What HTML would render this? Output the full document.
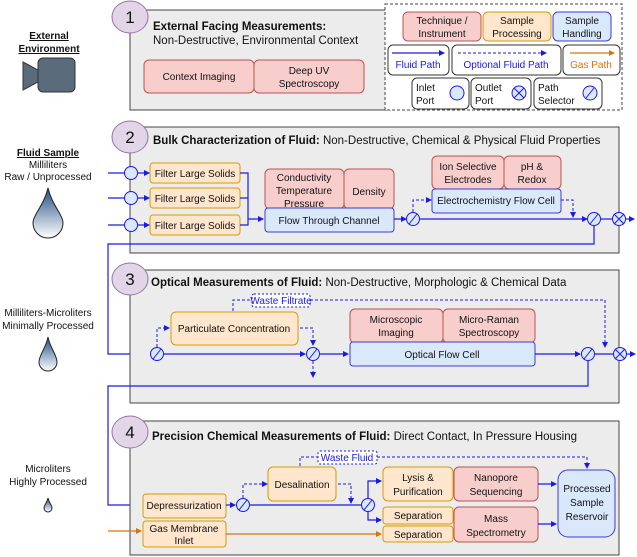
<!DOCTYPE html>
<html><head><meta charset="utf-8"><style>
html,body{margin:0;padding:0;background:#fff;}
svg{display:block;font-family:"Liberation Sans",Arial,sans-serif;}
.r{fill:#f8cecc;stroke:#b85450;stroke-width:1;}
.o{fill:#ffe6cc;stroke:#d79b00;stroke-width:1;}
.b{fill:#dae8fc;stroke:#3b3bd6;stroke-width:1;}
.p{fill:#ececec;stroke:#444;stroke-width:1;}
.c{fill:#e1d5e7;stroke:#9673a6;stroke-width:1;}
.w{fill:#fff;stroke:#333;stroke-width:1;}
.f{stroke:#1a1ae6;stroke-width:1.2;fill:none;}
.d{stroke:#1a1ae6;stroke-width:1;fill:none;stroke-dasharray:3,2;}
.g{stroke:#d9730d;stroke-width:1.2;fill:none;}
.port{fill:#dae8fc;stroke:#1a1ae6;stroke-width:1;}
text{font-size:10px;fill:#111;}
.t{font-size:11.5px;}
.n{font-size:17px;}
</style></head><body>
<svg width="637" height="557" viewBox="0 0 637 557" xmlns="http://www.w3.org/2000/svg">
<defs>
<marker id="a" markerWidth="6" markerHeight="6" refX="5" refY="3" orient="auto" markerUnits="userSpaceOnUse"><path d="M0,0 L6,3 L0,6 z" fill="#1a1ae6"/></marker>
<marker id="ag" markerWidth="6" markerHeight="6" refX="5" refY="3" orient="auto" markerUnits="userSpaceOnUse"><path d="M0,0 L6,3 L0,6 z" fill="#d9730d"/></marker>
<linearGradient id="drop" x1="0" y1="0" x2="0" y2="1"><stop offset="0" stop-color="#1f4f86"/><stop offset="1" stop-color="#fff"/></linearGradient>
</defs>

<!-- Left labels -->
<text x="49" y="39" text-anchor="middle" font-weight="bold" text-decoration="underline">External</text>
<text x="49" y="52" text-anchor="middle" font-weight="bold" text-decoration="underline">Environment</text>
<path d="M23,62 L38,70 L38,82 L23,90 Z" fill="#5a6b7b" stroke="#333"/>
<rect x="38" y="58" width="37" height="34" rx="5" fill="#5a6b7b" stroke="#333"/>

<text x="48" y="156" text-anchor="middle" font-weight="bold" text-decoration="underline">Fluid Sample</text>
<text x="48" y="168" text-anchor="middle">Milliliters</text>
<text x="48" y="180" text-anchor="middle">Raw / Unprocessed</text>
<path d="M48,188 C52,205 63,215 63,223 A15,15 0 0 1 33,223 C33,215 44,205 48,188 Z" fill="url(#drop)" stroke="#222"/>

<text x="48" y="316" text-anchor="middle">Milliliters-Microliters</text>
<text x="48" y="329" text-anchor="middle">Minimally Processed</text>
<path d="M48,337 C50,348 57,355 57,362 A9,9 0 0 1 39,362 C39,355 46,348 48,337 Z" fill="url(#drop)" stroke="#222"/>

<text x="48" y="472" text-anchor="middle">Microliters</text>
<text x="48" y="485" text-anchor="middle">Highly Processed</text>
<path d="M48,498 C49,503 52,505 52,508 A4,4 0 0 1 44,508 C44,505 47,503 48,498 Z" fill="url(#drop)" stroke="#222"/>

<!-- Panel 1 -->
<rect class="p" x="130" y="10" width="260" height="100"/>
<ellipse class="c" cx="130" cy="17" rx="18" ry="16"/>
<text class="n" x="130" y="23" text-anchor="middle">1</text>
<text class="t" x="153" y="30" font-weight="bold">External Facing Measurements:</text>
<text class="t" x="153" y="44">Non-Destructive, Environmental Context</text>
<rect class="r" x="144" y="60" width="110" height="33" rx="5"/>
<rect class="r" x="254" y="60" width="110" height="33" rx="5"/>
<text x="199" y="80" text-anchor="middle">Context Imaging</text>
<text x="309" y="74" text-anchor="middle">Deep UV</text>
<text x="309" y="87" text-anchor="middle">Spectroscopy</text>

<!-- Legend -->
<rect x="385" y="4" width="237" height="106" fill="#fff" stroke="#444" stroke-dasharray="3,2"/>
<rect class="r" x="403" y="12" width="78" height="29" rx="5"/>
<text x="442" y="24" text-anchor="middle" font-size="10.5">Technique /</text>
<text x="442" y="37" text-anchor="middle" font-size="10.5">Instrument</text>
<rect class="o" x="483" y="12" width="68" height="29" rx="5"/>
<text x="517" y="24" text-anchor="middle" font-size="10.5">Sample</text>
<text x="517" y="37" text-anchor="middle" font-size="10.5">Processing</text>
<rect class="b" x="553" y="12" width="58" height="29" rx="5"/>
<text x="582" y="24" text-anchor="middle" font-size="10.5">Sample</text>
<text x="582" y="37" text-anchor="middle" font-size="10.5">Handling</text>
<rect class="w" x="388" y="45" width="61" height="30" rx="5"/>
<line class="f" x1="392" y1="53" x2="444" y2="53" marker-end="url(#a)"/>
<text x="418" y="68" text-anchor="middle" font-size="10.5" style="fill:#1a1ae6">Fluid Path</text>
<rect class="w" x="452" y="45" width="109" height="30" rx="5"/>
<line class="d" x1="458" y1="53" x2="546" y2="53" marker-end="url(#a)"/>
<text x="506" y="68" text-anchor="middle" font-size="10.5" style="fill:#1a1ae6">Optional Fluid Path</text>
<rect class="w" x="563" y="45" width="57" height="30" rx="5"/>
<line class="g" x1="570" y1="53" x2="614" y2="53" marker-end="url(#ag)"/>
<text x="591" y="68" text-anchor="middle" font-size="10.5" style="fill:#d9730d">Gas Path</text>
<rect class="w" x="412" y="78" width="57" height="31" rx="5"/>
<text x="416" y="91" font-size="10.5">Inlet</text><text x="416" y="104" font-size="10.5">Port</text>
<circle class="port" cx="457" cy="93" r="7"/>
<rect class="w" x="471" y="78" width="60" height="31" rx="5"/>
<text x="475" y="91" font-size="10.5">Outlet</text><text x="475" y="104" font-size="10.5">Port</text>
<circle class="port" cx="519" cy="93" r="7"/><path d="M514,88 L524,98 M524,88 L514,98" stroke="#1a1ae6"/>
<rect class="w" x="534" y="78" width="68" height="31" rx="5"/>
<text x="538" y="91" font-size="10.5">Path</text><text x="538" y="104" font-size="10.5">Selector</text>
<circle class="port" cx="590" cy="93" r="7"/><path d="M586,98 L594,88" stroke="#1a1ae6"/>

<!-- Panel 2 -->
<rect class="p" x="130" y="127" width="489" height="126"/>
<ellipse class="c" cx="130" cy="137" rx="18" ry="16"/>
<text class="n" x="130" y="143" text-anchor="middle">2</text>
<text class="t" x="153" y="144"><tspan font-weight="bold">Bulk Characterization of Fluid:</tspan> Non-Destructive, Chemical &amp; Physical Fluid Properties</text>
<g>
<line class="f" x1="108" y1="173" x2="125" y2="173"/><line class="f" x1="108" y1="198" x2="125" y2="198"/><line class="f" x1="108" y1="225" x2="125" y2="225"/>
<line class="f" x1="137" y1="173" x2="149" y2="173" marker-end="url(#a)"/>
<line class="f" x1="137" y1="198" x2="149" y2="198" marker-end="url(#a)"/>
<line class="f" x1="137" y1="225" x2="149" y2="225" marker-end="url(#a)"/>
<circle class="port" cx="131" cy="173" r="6.5"/><circle class="port" cx="131" cy="198" r="6.5"/><circle class="port" cx="131" cy="225" r="6.5"/>
<rect class="o" x="150" y="163" width="90" height="20" rx="3"/><text x="195" y="177" text-anchor="middle">Filter Large Solids</text>
<rect class="o" x="150" y="188" width="90" height="20" rx="3"/><text x="195" y="202" text-anchor="middle">Filter Large Solids</text>
<rect class="o" x="150" y="215" width="90" height="20" rx="3"/><text x="195" y="229" text-anchor="middle">Filter Large Solids</text>
<path class="f" d="M240,173 H248 V225 M240,198 H248 M240,225 H248 V219 H263" marker-end="url(#a)"/>
</g>
<rect class="r" x="265" y="169" width="79" height="40" rx="5"/>
<rect class="r" x="344" y="169" width="50" height="40" rx="5"/>
<text x="304" y="181" text-anchor="middle">Conductivity</text><text x="304" y="194" text-anchor="middle">Temperature</text><text x="304" y="207" text-anchor="middle">Pressure</text>
<text x="369" y="195" text-anchor="middle">Density</text>
<rect class="b" x="265" y="208" width="129" height="24" rx="3"/>
<text x="329" y="224" text-anchor="middle">Flow Through Channel</text>
<line class="f" x1="394" y1="219" x2="406" y2="219" marker-end="url(#a)"/>
<circle class="port" cx="413" cy="219" r="6.5"/><path d="M409,224 L417,214" stroke="#1a1ae6"/>
<path class="d" d="M413,212 V200 H431" marker-end="url(#a)"/>
<rect class="r" x="432" y="156" width="72" height="33" rx="5"/>
<rect class="r" x="504" y="156" width="57" height="33" rx="5"/>
<text x="468" y="170" text-anchor="middle">Ion Selective</text><text x="468" y="183" text-anchor="middle">Electrodes</text>
<text x="532" y="170" text-anchor="middle">pH &amp;</text><text x="532" y="183" text-anchor="middle">Redox</text>
<rect class="b" x="432" y="189" width="129" height="24" rx="3"/>
<text x="496" y="204" text-anchor="middle">Electrochemistry Flow Cell</text>
<path class="d" d="M561,200 H573 V217" marker-end="url(#a)"/>
<line class="f" x1="420" y1="219" x2="587" y2="219" marker-end="url(#a)"/>
<circle class="port" cx="594" cy="219" r="6.5"/><path d="M590,224 L598,214" stroke="#1a1ae6"/>
<line class="f" x1="601" y1="219" x2="612" y2="219"/>
<circle class="port" cx="619" cy="219" r="6.5"/><path d="M614,214 L624,224 M624,214 L614,224" stroke="#1a1ae6"/>
<line class="f" x1="626" y1="219" x2="634" y2="219" marker-end="url(#a)"/>
<path class="f" d="M594,226 V244 H108 V354 H150" marker-end="url(#a)"/>

<!-- Panel 3 -->
<rect class="p" x="130" y="270" width="489" height="133"/>
<ellipse class="c" cx="130" cy="279" rx="18" ry="16"/>
<text class="n" x="130" y="285" text-anchor="middle">3</text>
<text class="t" x="151" y="286"><tspan font-weight="bold">Optical Measurements of Fluid:</tspan> Non-Destructive, Morphologic &amp; Chemical Data</text>
<path class="d" d="M233,311 V300 H252 M310,300 H605 V347" marker-end="url(#a)"/>
<rect x="252" y="294" width="58" height="13" rx="2" fill="#fff" stroke="#1a1ae6" stroke-dasharray="2,2"/>
<text x="281" y="304" text-anchor="middle" font-size="8" style="fill:#1a1ae6">Waste Filtrate</text>
<circle class="port" cx="157" cy="354" r="6.5"/><path d="M153,359 L161,349" stroke="#1a1ae6"/>
<path class="d" d="M157,347 V328 H169" marker-end="url(#a)"/>
<rect class="o" x="171" y="312" width="127" height="33" rx="5"/>
<text x="234" y="332" text-anchor="middle">Particulate Concentration</text>
<path class="d" d="M300,328 H313 V345" marker-end="url(#a)"/>
<line class="f" x1="164" y1="354" x2="305" y2="354" marker-end="url(#a)"/>
<circle class="port" cx="313" cy="354" r="6.5"/><path d="M309,359 L317,349" stroke="#1a1ae6"/>
<line class="f" x1="320" y1="354" x2="348" y2="354" marker-end="url(#a)"/>
<path class="d" d="M313,361 V377" marker-end="url(#a)"/>
<rect class="r" x="350" y="309" width="93" height="34" rx="5"/>
<rect class="r" x="443" y="309" width="92" height="34" rx="5"/>
<text x="396" y="323" text-anchor="middle">Microscopic</text><text x="396" y="336" text-anchor="middle">Imaging</text>
<text x="489" y="323" text-anchor="middle">Micro-Raman</text><text x="489" y="336" text-anchor="middle">Spectroscopy</text>
<rect class="b" x="350" y="342" width="185" height="24" rx="3"/>
<text x="442" y="358" text-anchor="middle">Optical Flow Cell</text>
<line class="f" x1="535" y1="354" x2="580" y2="354" marker-end="url(#a)"/>
<circle class="port" cx="588" cy="354" r="6.5"/><path d="M584,359 L592,349" stroke="#1a1ae6"/>
<line class="f" x1="595" y1="354" x2="613" y2="354"/>
<circle class="port" cx="620" cy="354" r="6.5"/><path d="M615,349 L625,359 M625,349 L615,359" stroke="#1a1ae6"/>
<line class="f" x1="627" y1="354" x2="635" y2="354" marker-end="url(#a)"/>
<path class="f" d="M588,361 V386 H108 V505 H141" marker-end="url(#a)"/>

<!-- Panel 4 -->
<rect class="p" x="130" y="421" width="489" height="134"/>
<ellipse class="c" cx="130" cy="432" rx="18" ry="16"/>
<text class="n" x="130" y="438" text-anchor="middle">4</text>
<text class="t" x="152" y="440"><tspan font-weight="bold">Precision Chemical Measurements of Fluid:</tspan> Direct Contact, In Pressure Housing</text>
<path class="d" d="M300,466 V457 H318 M377,457 H587 V468" marker-end="url(#a)"/>
<rect x="318" y="451" width="59" height="13" rx="2" fill="#fff" stroke="#1a1ae6" stroke-dasharray="2,2"/>
<text x="347" y="461" text-anchor="middle" font-size="8.5" style="fill:#1a1ae6">Waste Fluid</text>
<rect class="o" x="143" y="494" width="83" height="24" rx="3"/>
<text x="184" y="509" text-anchor="middle">Depressurization</text>
<rect class="o" x="143" y="521" width="83" height="26" rx="3"/>
<text x="184" y="532" text-anchor="middle">Gas Membrane</text><text x="184" y="544" text-anchor="middle">Inlet</text>
<line class="g" x1="108" y1="531" x2="141" y2="531" marker-end="url(#ag)"/>
<line class="f" x1="226" y1="505" x2="235" y2="505" marker-end="url(#a)"/>
<circle class="port" cx="243" cy="505" r="6.5"/><path d="M239,510 L247,500" stroke="#1a1ae6"/>
<path class="d" d="M243,498 V484 H267" marker-end="url(#a)"/>
<rect class="o" x="268" y="467" width="68" height="34" rx="5"/>
<text x="302" y="488" text-anchor="middle">Desalination</text>
<path class="d" d="M338,484 H351 V503" marker-end="url(#a)"/>
<line class="f" x1="250" y1="505" x2="361" y2="505"/>
<circle class="port" cx="368" cy="505" r="6.5"/><path d="M364,510 L372,500" stroke="#1a1ae6"/>
<path class="f" d="M368,498 V481 H381" marker-end="url(#a)"/>
<path class="f" d="M368,512 V520 H381" marker-end="url(#a)"/>
<rect class="o" x="383" y="467" width="70" height="34" rx="5"/>
<text x="418" y="481" text-anchor="middle">Lysis &amp;</text><text x="418" y="495" text-anchor="middle">Purification</text>
<rect class="o" x="383" y="507" width="70" height="17" rx="3"/>
<text x="418" y="519" text-anchor="middle">Separation</text>
<rect class="o" x="383" y="526" width="70" height="16" rx="3"/>
<text x="418" y="538" text-anchor="middle">Separation</text>
<line class="g" x1="226" y1="534" x2="381" y2="534" marker-end="url(#ag)"/>
<rect class="r" x="454" y="467" width="84" height="34" rx="5"/>
<text x="496" y="481" text-anchor="middle">Nanopore</text><text x="496" y="495" text-anchor="middle">Sequencing</text>
<rect class="r" x="454" y="507" width="84" height="35" rx="5"/>
<text x="496" y="522" text-anchor="middle">Mass</text><text x="496" y="536" text-anchor="middle">Spectrometry</text>
<line class="f" x1="538" y1="484" x2="556" y2="484" marker-end="url(#a)"/>
<line class="f" x1="538" y1="524" x2="556" y2="524" marker-end="url(#a)"/>
<rect class="b" x="558" y="470" width="57" height="67" rx="10"/>
<text x="587" y="492" text-anchor="middle">Processed</text><text x="587" y="506" text-anchor="middle">Sample</text><text x="587" y="520" text-anchor="middle">Reservoir</text>
</svg>
</body></html>
